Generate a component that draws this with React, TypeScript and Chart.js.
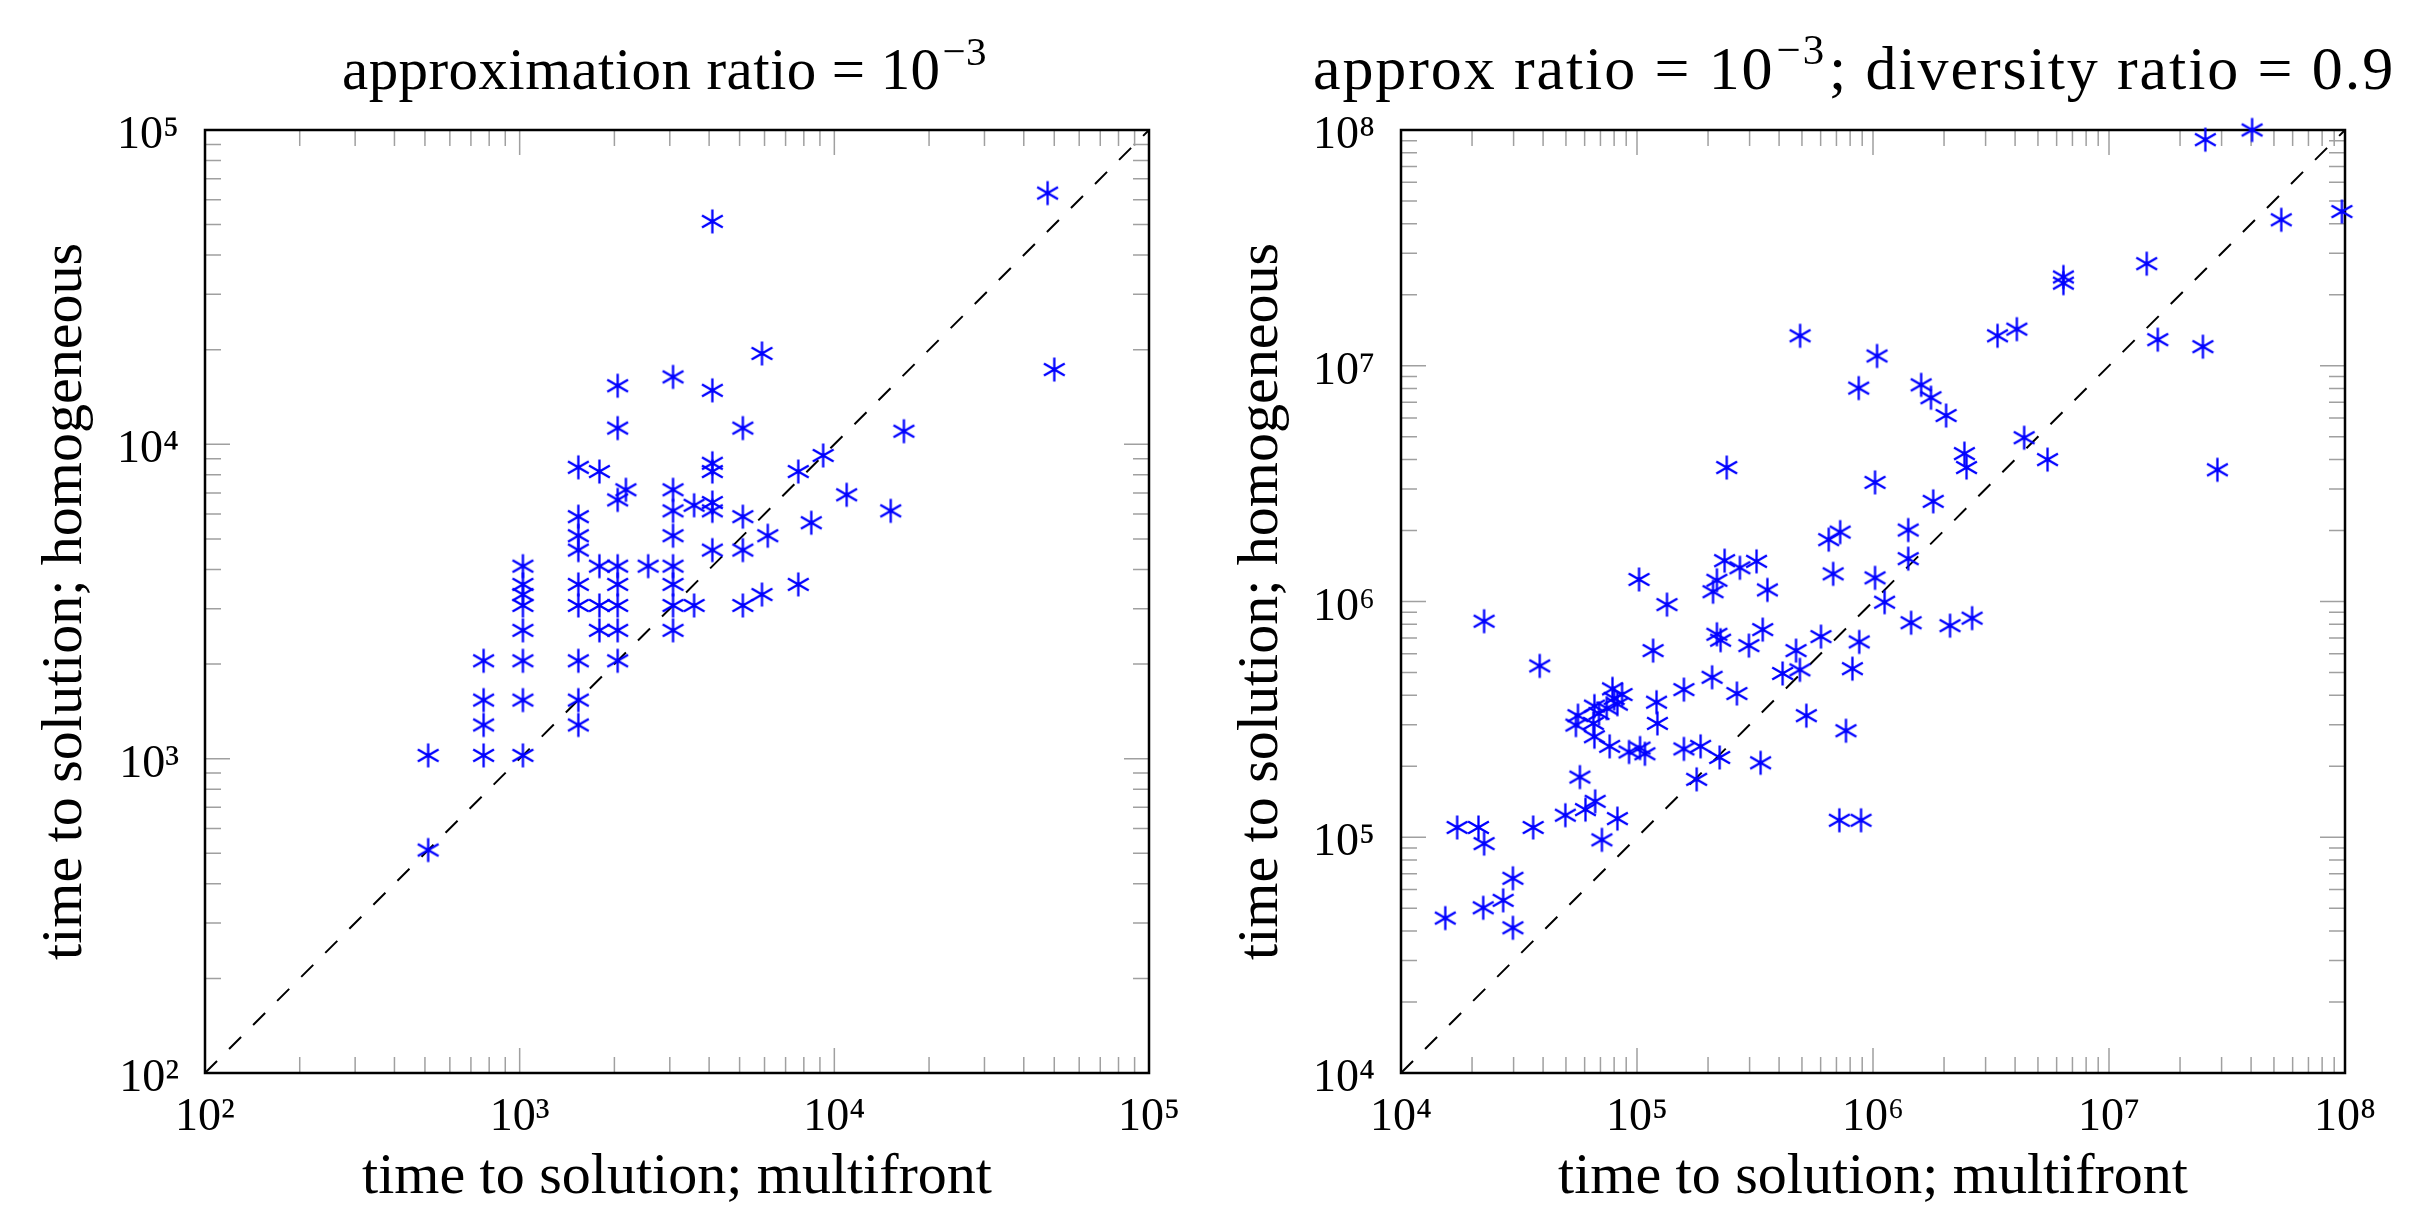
import React, { useEffect, useRef } from "react";
import { Chart, registerables } from "chart.js";

Chart.register(...registerables);

// ---------------- data ----------------
const LEFT_TICKS = [1e2, 1e3, 1e4, 1e5];
const RIGHT_TICKS = [1e4, 1e5, 1e6, 1e7, 1e8];
const LEFT_DIAGONAL = [1e2, 1e5];
const RIGHT_DIAGONAL = [1e4, 1e8];

const LEFT_MULTIFRONT = [
  512, 512,
  768, 768, 768, 768,
  1024, 1024, 1024, 1024, 1024, 1024, 1024, 1024,
  1536, 1536, 1536, 1536, 1536, 1536, 1536, 1536, 1536,
  1792, 1792, 1792, 1792,
  2048, 2048, 2048, 2048, 2048, 2048, 2048, 2048,
  2176, 2560,
  3072, 3072, 3072, 3072, 3072, 3072, 3072, 3072,
  3584, 3584,
  4096, 4096, 4096, 4096, 4096, 4096, 4096,
  5120, 5120, 5120, 5120,
  5888, 5888, 6144, 7680, 7680, 8448, 9216, 10944, 15104, 16640, 47616, 50000,
];
const LEFT_HOMOGENEOUS = [
  1024, 512,
  2048, 1536, 1280, 1024,
  4096, 3584, 3328, 3072, 2560, 2048, 1536, 1024,
  8448, 5888, 5120, 4608, 3584, 3072, 2048, 1536, 1280,
  8192, 4096, 3072, 2560,
  15360, 11264, 6656, 4096, 3584, 3072, 2560, 2048,
  7168, 4096,
  16384, 7168, 6144, 5120, 4096, 3584, 3072, 2560,
  6400, 3072,
  51200, 14848, 8704, 8192, 6528, 6144, 4608,
  11264, 5888, 4608, 3072,
  19456, 3328, 5120, 8192, 3584, 5632, 9216, 6912, 6144, 11008, 63000, 17300,
];

const RIGHT_MULTIFRONT = [
  2.56e7, 4.04e7, 5.37e7, 9.7e7, 1.445e7, 6.41e6, 6.41e6, 1.61e7, 2.5e7, 2.88e7,
  3.37e6, 4.07e6, 4.91e5, 1.04e6, 8.7e5, 1.6e6, 1.76e6, 2.04e6, 4.37e6, 5.49e6,
  2.44e6, 2.49e6, 2.4e5, 1.02e6, 1.8e6,
  5.51e4, 5.62e4, 6.53e4, 6.6e4, 6.6e4, 6.9e4, 7.66e4, 7.87e4, 8.0e4, 8.26e4,
  8.64e4, 7.44e4, 9.25e4, 1.03e5, 1.08e5, 1.21e5, 1.22e5, 1.17e5, 1.02e5, 1.34e5,
  1.58e5, 1.58e5, 1.86e5, 2.08e5, 2.1e5, 2.18e5, 2.18e5, 2.26e5, 2.35e5, 2.73e5,
  3.21e5, 3.57e5, 2.65e5, 2.24e5, 1.79e5, 3.34e5, 2.98e5, 3.41e5, 4.14e5, 4.72e5,
  4.9e5, 5.22e5, 6.02e5, 6.78e5, 6.49e5, 7.26e5, 7.2e5, 8.9e5, 7.68e5, 8.18e5,
  8.74e5, 1.02e6, 1.12e6, 1.41e6, 1.41e6, 1.45e6, 2.12e6, 2.63e6,
  2.25e4, 3.87e4, 1.73e4, 2.13e4, 2.25e4, 3.63e4, 2.98e4, 2.71e4, 2.23e4, 2.98e4,
  1.54e4, 4.97e4, 5.73e4, 6.05e4, 6.65e4, 7.1e4, 8.26e4,
];
const RIGHT_HOMOGENEOUS = [
  9.1e7, 1.0e8, 4.16e7, 4.51e7, 2.71e7, 2.38e7, 2.24e7, 1.29e7, 1.205e7, 3.62e6,
  1.34e7, 1.43e7, 1.34e7, 1.1e7, 8.04e6, 8.3e6, 7.32e6, 6.15e6, 4.95e6, 4.0e6,
  4.24e6, 3.7e6, 3.7e6, 3.2e6, 2.66e6,
  2.99e5, 3.28e5, 3.04e5, 3.6e5, 2.67e5, 3.35e5, 2.43e5, 4.26e5, 3.88e5, 3.67e5,
  4.03e5, 3.53e5, 2.3e5, 2.39e5, 2.26e5, 3.74e5, 3.04e5, 6.19e5, 1.24e6, 9.7e5,
  4.23e5, 2.37e5, 2.43e5, 4.77e5, 1.1e6, 1.23e6, 7.26e5, 6.85e5, 1.49e6, 1.39e6,
  1.48e6, 1.12e6, 4.07e5, 2.18e5, 1.76e5, 2.07e5, 6.5e5, 7.6e5, 4.95e5, 6.19e5,
  5.13e5, 3.28e5, 7.1e5, 1.31e6, 1.83e6, 1.97e6, 1.18e5, 1.18e5, 2.83e5, 5.19e5,
  6.74e5, 1.26e6, 9.93e5, 2.01e6, 1.52e6, 8.13e5, 7.9e5, 8.5e5,
  8.25e5, 5.33e5, 1.1e5, 1.1e5, 9.4e4, 1.1e5, 6.7e4, 5.4e4, 5.02e4, 4.13e4,
  4.54e4, 1.24e5, 1.8e5, 1.31e5, 1.42e5, 9.75e4, 1.2e5,
];

const LEFT_TITLE = ["approximation ratio = 10", "−3", ""];
const RIGHT_TITLE = ["approx ratio = 10", "−3", "; diversity ratio = 0.9"];
const X_LABEL = "time to solution; multifront";
const Y_LABEL = "time to solution; homogeneous";

// ---------------- styling / helpers ----------------
const FONT = "'Liberation Serif', 'Times New Roman', serif";
const SUP: Record<string, string> = {
  "0": "⁰", "1": "¹", "2": "²", "3": "³", "4": "⁴",
  "5": "⁵", "6": "⁶", "7": "⁷", "8": "⁸", "9": "⁹", "-": "⁻",
};
const supText = (s: string) => s.split("").map((c) => SUP[c] ?? c).join("");
const PAGE_H = 1207;
const AREA_LEFT = 205;
const AREA_RIGHT = 1149;
const AREA_TOP = 130;
const AREA_BOTTOM = 1073;

function makeAsterisk(color: string, r: number, lw: number) {
  const size = Math.ceil(2 * r + lw + 4);
  const c = document.createElement("canvas");
  c.width = size;
  c.height = size;
  const g = c.getContext("2d")!;
  g.strokeStyle = color;
  g.lineWidth = lw;
  const cx = size / 2;
  const cy = size / 2;
  g.beginPath();
  for (const a of [90, 30, -30]) {
    const rad = (a * Math.PI) / 180;
    const dx = r * Math.cos(rad);
    const dy = r * Math.sin(rad);
    g.moveTo(cx - dx, cy + dy);
    g.lineTo(cx + dx, cy - dy);
  }
  g.stroke();
  return c;
}

const framePlugin = {
  id: "frameTicks",
  beforeDatasetsDraw(chart: any) {
    const { ctx, chartArea } = chart;
    const { left, right, top, bottom } = chartArea;
    const xs = chart.scales.x;
    const ys = chart.scales.y;
    const marks = (scale: any) => {
      const res: { v: number; major: boolean }[] = [];
      const lo = Math.round(Math.log10(scale.min));
      const hi = Math.round(Math.log10(scale.max));
      for (let e = lo; e <= hi; e++) {
        for (let m = 1; m <= 9; m++) {
          if (e === hi && m > 1) break;
          res.push({ v: m * Math.pow(10, e), major: m === 1 });
        }
      }
      return res;
    };
    ctx.save();
    ctx.strokeStyle = "#a0a0a0";
    ctx.lineWidth = 1.5;
    ctx.beginPath();
    for (const t of marks(xs)) {
      const p = xs.getPixelForValue(t.v);
      const len = t.major ? 25 : 16;
      ctx.moveTo(p, bottom);
      ctx.lineTo(p, bottom - len);
      ctx.moveTo(p, top);
      ctx.lineTo(p, top + len);
    }
    for (const t of marks(ys)) {
      const p = ys.getPixelForValue(t.v);
      const len = t.major ? 25 : 16;
      ctx.moveTo(left, p);
      ctx.lineTo(left + len, p);
      ctx.moveTo(right, p);
      ctx.lineTo(right - len, p);
    }
    ctx.stroke();
    ctx.strokeStyle = "#000";
    ctx.lineWidth = 2.5;
    ctx.strokeRect(left, top, right - left, bottom - top);
    ctx.restore();
  },
};

const titlePlugin = {
  id: "supTitle",
  afterDraw(chart: any, _args: any, opts: any) {
    const parts: string[] = opts.parts;
    if (!parts) return;
    const { ctx, chartArea } = chart;
    const size: number = opts.size || 58;
    const spacing: number = opts.spacing || 0;
    const mainFont = `${size}px ${FONT}`;
    const supFont = `${Math.round(size * 0.69)}px ${FONT}`;
    ctx.save();
    ctx.fillStyle = "#000";
    ctx.textBaseline = "alphabetic";
    ctx.textAlign = "left";
    try {
      (ctx as any).letterSpacing = `${spacing}px`;
    } catch (e) {
      /* ignore */
    }
    ctx.font = mainFont;
    const w1 = ctx.measureText(parts[0]).width;
    const w3 = ctx.measureText(parts[2]).width;
    ctx.font = supFont;
    const w2 = ctx.measureText(parts[1]).width + 3;
    const total = w1 + 2 + w2 + w3;
    const cx = (chartArea.left + chartArea.right) / 2 + (opts.dx || 0);
    let x = cx - total / 2;
    const base = 89;
    ctx.font = mainFont;
    ctx.fillText(parts[0], x, base);
    x += w1 + 2;
    ctx.font = supFont;
    ctx.fillText(parts[1], x, base - Math.round(size * 0.41));
    x += w2;
    ctx.font = mainFont;
    if (parts[2]) ctx.fillText(parts[2], x, base);
    ctx.restore();
  },
};

function buildConfig(
  xs: number[],
  ys: number[],
  diag: number[],
  ticks: number[],
  title: string[],
  titleStyle: { size: number; spacing: number; dx: number },
  canvasW: number,
  star: HTMLCanvasElement
): any {
  const axisCommon = (isX: boolean) => ({
    type: "logarithmic",
    position: isX ? "bottom" : "left",
    min: ticks[0],
    max: ticks[ticks.length - 1],
    grid: { display: false, drawTicks: false },
    border: { display: false },
    ticks: {
      color: "#000",
      font: { family: FONT, size: 46 },
      padding: isX ? 17 : 26,
      labelOffset: isX ? 0 : 6,
      autoSkip: false,
      maxRotation: 0,
      minRotation: 0,
      callback: (v: number) => "10" + supText(String(Math.round(Math.log10(v)))),
    },
    title: {
      display: true,
      text: isX ? X_LABEL : Y_LABEL,
      color: "#000",
      font: { family: FONT, size: 58, lineHeight: 1 },
      padding: isX ? { top: 0, bottom: 0 } : { top: 37, bottom: 0 },
    },
    afterBuildTicks: (s: any) => {
      s.ticks = ticks.map((v) => ({ value: v }));
    },
    afterFit: (s: any) => {
      if (isX) {
        s.height = PAGE_H - AREA_BOTTOM;
        s.paddingLeft = 0;
        s.paddingRight = 0;
      } else {
        s.width = AREA_LEFT;
        s.paddingTop = 0;
        s.paddingBottom = 0;
      }
    },
  });

  return {
    type: "scatter",
    data: {
      datasets: [
        {
          label: "runs",
          data: xs.map((x, i) => ({ x, y: ys[i] })),
          pointStyle: star,
          pointRadius: 12,
          borderColor: "#0000ff",
          backgroundColor: "#0000ff",
          clip: false,
          showLine: false,
        },
        {
          label: "y = x",
          data: diag.map((v) => ({ x: v, y: v })),
          showLine: true,
          borderColor: "#000",
          borderWidth: 2,
          borderDash: [17, 17],
          pointRadius: 0,
          fill: false,
        },
      ],
    },
    options: {
      responsive: false,
      animation: false,
      events: [],
      devicePixelRatio: 1,
      layout: {
        padding: { left: 0, right: canvasW - AREA_RIGHT, top: AREA_TOP, bottom: 0 },
      },
      plugins: {
        legend: { display: false },
        tooltip: { enabled: false },
        title: { display: false },
        supTitle: { parts: title, ...titleStyle },
      },
      scales: { x: axisCommon(true), y: axisCommon(false) },
    },
    plugins: [framePlugin, titlePlugin],
  };
}

function Plot(props: {
  xs: number[];
  ys: number[];
  diag: number[];
  ticks: number[];
  title: string[];
  titleStyle: { size: number; spacing: number; dx: number };
  left: number;
  width: number;
}) {
  const ref = useRef<HTMLCanvasElement | null>(null);
  useEffect(() => {
    if (!ref.current) return;
    const star = makeAsterisk("#0000ff", 12, 2.3);
    const chart = new Chart(
      ref.current,
      buildConfig(
        props.xs,
        props.ys,
        props.diag,
        props.ticks,
        props.title,
        props.titleStyle,
        props.width,
        star
      )
    );
    return () => chart.destroy();
  }, []);
  return (
    <canvas
      ref={ref}
      width={props.width}
      height={PAGE_H}
      style={{ position: "absolute", left: props.left, top: 0, width: props.width, height: PAGE_H }}
    />
  );
}

export default function App() {
  return (
    <div
      style={{
        position: "absolute",
        left: 0,
        top: 0,
        width: 2435,
        height: PAGE_H,
        background: "#fff",
        overflow: "hidden",
      }}
    >
      <Plot
        xs={LEFT_MULTIFRONT}
        ys={LEFT_HOMOGENEOUS}
        diag={LEFT_DIAGONAL}
        ticks={LEFT_TICKS}
        title={LEFT_TITLE}
        titleStyle={{ size: 59, spacing: 0.4, dx: -11 }}
        left={0}
        width={1196}
      />
      <Plot
        xs={RIGHT_MULTIFRONT}
        ys={RIGHT_HOMOGENEOUS}
        diag={RIGHT_DIAGONAL}
        ticks={RIGHT_TICKS}
        title={RIGHT_TITLE}
        titleStyle={{ size: 62, spacing: 1.9, dx: -19 }}
        left={1196}
        width={1239}
      />
    </div>
  );
}
